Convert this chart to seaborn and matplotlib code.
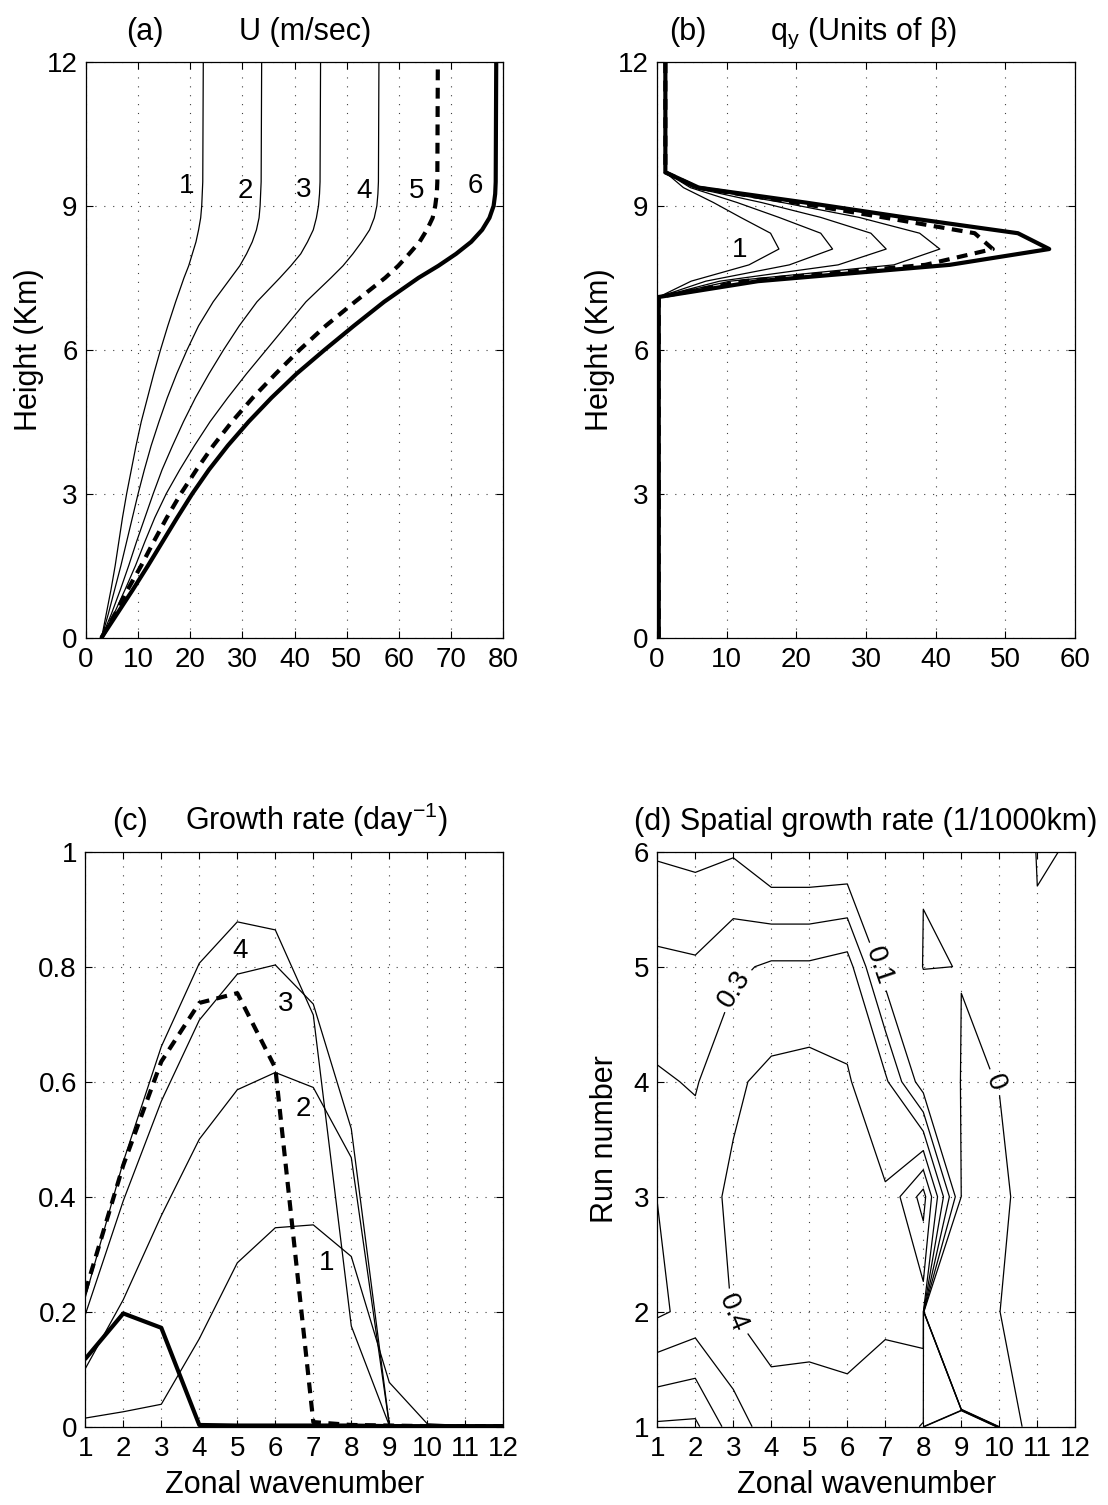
import matplotlib
matplotlib.use("Agg")
import numpy as np
import matplotlib.pyplot as plt
import seaborn as sns
from matplotlib.ticker import FormatStrFormatter

# ---------------------------------------------------------------
# (a) basic-state zonal wind U (m/s) against height (km), runs 1-6
# ---------------------------------------------------------------
u_height_km = [0, 0.5, 1, 1.5, 2, 2.5, 3, 3.5, 4, 4.5, 5, 5.5, 6, 6.5,
               7, 7.5, 7.75, 8, 8.25, 8.5, 8.75, 9, 9.25, 9.5, 12]
u_run1 = [3.0, 3.9, 4.8, 5.6, 6.3, 7.0, 7.8, 8.7, 9.6, 10.6, 11.8, 13.0,
          14.3, 15.7, 17.2, 18.8, 19.7, 20.4, 21.1, 21.6, 22.0, 22.2, 22.3,
          22.4, 22.5]
u_run2 = [3.0, 4.3, 5.5, 6.7, 7.8, 8.9, 10.0, 11.2, 12.5, 14.0, 15.6, 17.4,
          19.4, 21.6, 24.4, 27.8, 29.5, 30.8, 31.9, 32.7, 33.2, 33.4, 33.5,
          33.6, 33.7]
u_run3 = [3.0, 4.9, 6.6, 8.2, 9.7, 11.3, 12.9, 14.6, 16.6, 18.7, 21.0, 23.6,
          26.4, 29.4, 32.8, 37.2, 39.3, 41.2, 42.5, 43.6, 44.2, 44.6, 44.8,
          44.9, 45.0]
u_run4 = [3.0, 5.4, 7.5, 9.5, 11.3, 13.2, 15.4, 18.0, 20.8, 23.8, 27.2, 30.8,
          34.6, 38.4, 42.2, 47.0, 49.3, 51.2, 52.9, 54.4, 55.3, 55.8, 56.0,
          56.1, 56.2]
u_run5 = [3.0, 5.6, 8.0, 10.6, 13.0, 15.5, 18.2, 21.2, 24.4, 28.0, 32.0, 36.4,
          41.0, 46.0, 51.6, 57.4, 59.9, 62.0, 64.0, 65.4, 66.5, 67.0, 67.3,
          67.4, 67.5]
u_run6 = [3.0, 6.0, 9.0, 11.9, 14.7, 17.5, 20.4, 23.6, 27.2, 31.2, 35.6, 40.4,
          45.8, 51.4, 57.2, 63.8, 67.6, 71.0, 73.9, 76.0, 77.4, 78.2, 78.5,
          78.6, 78.7]
u_labels = ["1", "2", "3", "4", "5", "6"]
u_label_x = [19.3, 30.5, 41.7, 53.3, 63.5, 74.6]
u_label_z = [9.42, 9.30, 9.34, 9.30, 9.30, 9.42]

# ---------------------------------------------------------------
# (b) meridional PV gradient q_y (units of beta) against height (km)
# ---------------------------------------------------------------
qy_height_km = [0, 7.1, 7.43, 7.77, 8.1, 8.43, 8.76, 9.07, 9.38, 9.7, 12]
qy_run1 = [0.25, 0.25, 4.9, 13.2, 17.5, 16.3, 12.0, 8.1, 3.8, 1.2, 1.2]
qy_run2 = [0.25, 0.25, 7.0, 19.0, 25.2, 23.5, 17.5, 11.5, 4.8, 1.2, 1.2]
qy_run3 = [0.25, 0.25, 9.0, 26.0, 32.9, 30.7, 23.5, 15.0, 5.2, 1.2, 1.2]
qy_run4 = [0.25, 0.25, 10.5, 34.0, 40.6, 37.7, 29.0, 18.0, 5.6, 1.2, 1.2]
qy_run5 = [0.25, 0.25, 12.5, 38.5, 48.2, 45.6, 32.5, 19.8, 5.8, 1.2, 1.2]
qy_run6 = [0.25, 0.25, 14.5, 42.0, 56.3, 51.8, 35.6, 21.3, 6.0, 1.2, 1.2]

# ---------------------------------------------------------------
# (c) growth rate (1/day) against zonal wavenumber
# ---------------------------------------------------------------
wavenumber = [1, 2, 3, 4, 5, 6, 7, 8, 9, 10, 11, 12]
growth_run1 = [0.015, 0.026, 0.039, 0.153, 0.285, 0.346, 0.351, 0.296,
               0.077, 0.005, 0.002, 0.001]
growth_run2 = [0.101, 0.221, 0.367, 0.500, 0.586, 0.616, 0.590, 0.468,
               0.003, 0.001, 0.001, 0.001]
growth_run3 = [0.195, 0.393, 0.566, 0.707, 0.787, 0.803, 0.735, 0.518,
               0.004, 0.001, 0.001, 0.001]
growth_run4 = [0.225, 0.461, 0.661, 0.806, 0.878, 0.864, 0.716, 0.175,
               0.002, 0.001, 0.001, 0.001]
growth_run5 = [0.235, 0.455, 0.635, 0.737, 0.754, 0.624, 0.008, 0.003,
               0.002, 0.001, 0.001, 0.001]
growth_run6 = [0.118, 0.197, 0.172, 0.003, 0.002, 0.002, 0.002, 0.002,
               0.001, 0.001, 0.001, 0.001]
growth_labels = ["4", "3", "2", "1"]
growth_label_k = [5.07, 6.27, 6.75, 7.35]
growth_label_v = [0.828, 0.735, 0.553, 0.285]

# ---------------------------------------------------------------
# (d) spatial growth rate (1/1000 km): one row per run, one column per k
# ---------------------------------------------------------------
run_number = [1, 2, 3, 4, 5, 6]
spatial_run1 = [0.085, 0.080, 0.251, 0.350, 0.360, 0.360, 0.350, 0.294,
                5.0, -0.006, 0.004, 0.002]
spatial_run2 = [0.418, 0.365, 0.402, 0.446, 0.431, 0.447, 0.416, 0.450,
                -28.0, -0.0001, 0.0049, 0.003]
spatial_run3 = [0.399, 0.365, 0.415, 0.450, 0.450, 0.440, 0.412, 0.640,
                -0.001, -0.00122, 0.00285, 0.002]
spatial_run4 = [0.313, 0.291, 0.385, 0.424, 0.436, 0.410, 0.320, 0.042,
                -0.001, 0.000136, 0.003, 0.002]
spatial_run5 = [0.224, 0.214, 0.279, 0.316, 0.316, 0.344, 0.050, -0.001,
                0.0003, 0.003, 0.0047, 0.003]
spatial_run6 = [0.089, 0.075, 0.090, 0.003, 0.003, 0.005, 0.003, 0.001,
                0.001, 0.05, -0.002, 0.0016]
spatial_levels_low = [0, 0.1, 0.2, 0.3, 0.4]
spatial_levels_high = [0.5, 0.6]
spatial_label_pos = [(3.05, 4.8), (6.8, 5.0), (2.97, 1.98), (9.92, 4.0)]

# ---------------------------------------------------------------
# styling
# ---------------------------------------------------------------
sns.set_theme(style="white")
FS = 20       # tick labels and in-plot labels
FS_LAB = 22   # axis labels and panel titles
plt.rcParams.update({
    "font.family": ["Liberation Sans", "DejaVu Sans"],
    "mathtext.fontset": "custom",
    "mathtext.rm": "Liberation Sans",
    "mathtext.it": "Liberation Sans:italic",
    "mathtext.default": "regular",
    "font.size": FS,
    "axes.labelsize": FS_LAB,
    "xtick.labelsize": FS,
    "ytick.labelsize": FS,
    "text.color": "black",
    "axes.labelcolor": "black",
    "axes.edgecolor": "black",
    "axes.linewidth": 0.9,
    "xtick.color": "black",
    "ytick.color": "black",
    "xtick.direction": "in",
    "ytick.direction": "in",
    "xtick.top": True,
    "ytick.right": True,
    "xtick.bottom": True,
    "ytick.left": True,
    "xtick.major.size": 5,
    "ytick.major.size": 5,
    "xtick.major.width": 0.8,
    "ytick.major.width": 0.8,
    "xtick.major.pad": 7,
    "ytick.major.pad": 6,
})

THIN = dict(linewidth=0.9, linestyle="-")
DASHED = dict(linewidth=3.0, linestyle=(0, (2.6, 1.8)))
THICK = dict(linewidth=3.0, linestyle="-")
RUN_STYLES = [THIN, THIN, THIN, THIN, DASHED, THICK]

W, H = 1108, 1505
fig = plt.figure(figsize=(W / 100, H / 100), dpi=100)


def axes_px(left, top, right, bottom):
    return fig.add_axes([left / W, 1 - bottom / H, (right - left) / W,
                         (bottom - top) / H])


def style_axes(ax):
    ax.set_axisbelow(True)
    ax.grid(True, color="0.25", linestyle=(0, (1, 7)), linewidth=0.8)
    for sp in ax.spines.values():
        sp.set_visible(True)
        sp.set_color("black")
        sp.set_linewidth(0.9)
    ax.tick_params(which="both", direction="in", top=True, right=True)


def draw_runs(ax, xs_list, ys_list):
    for xs, ys, st in zip(xs_list, ys_list, RUN_STYLES):
        sns.lineplot(x=xs, y=ys, sort=False, estimator=None, ax=ax,
                     color="black", legend=False, **st)


ax_a = axes_px(86, 62, 503, 637.5)
ax_b = axes_px(657, 62, 1075, 637.5)
ax_c = axes_px(85.3, 851.7, 503.3, 1426.7)
ax_d = axes_px(657.3, 851.7, 1075.3, 1426.7)

# ---- (a) zonal wind ----
draw_runs(ax_a, [u_run1, u_run2, u_run3, u_run4, u_run5, u_run6],
          [u_height_km] * 6)
for t, x, z in zip(u_labels, u_label_x, u_label_z):
    ax_a.text(x, z, t, ha="center", va="center", fontsize=FS)
ax_a.set_xlim(0, 80)
ax_a.set_ylim(0, 12)
ax_a.set_xticks(range(0, 81, 10))
ax_a.set_yticks([0, 3, 6, 9, 12])
ax_a.set_xlabel("")
ax_a.set_ylabel("Height (Km)")
ax_a.yaxis.set_label_coords(-0.10, 0.5)
style_axes(ax_a)

# ---- (b) PV gradient ----
draw_runs(ax_b, [qy_run1, qy_run2, qy_run3, qy_run4, qy_run5, qy_run6],
          [qy_height_km] * 6)
ax_b.text(11.8, 8.07, "1", ha="center", va="center", fontsize=FS)
ax_b.set_xlim(0, 60)
ax_b.set_ylim(0, 12)
ax_b.set_xticks(range(0, 61, 10))
ax_b.set_yticks([0, 3, 6, 9, 12])
ax_b.set_xlabel("")
ax_b.set_ylabel("Height (Km)")
ax_b.yaxis.set_label_coords(-0.10, 0.5)
style_axes(ax_b)

# ---- (c) growth rate ----
draw_runs(ax_c, [wavenumber] * 6,
          [growth_run1, growth_run2, growth_run3, growth_run4,
           growth_run5, growth_run6])
for t, k, v in zip(growth_labels, growth_label_k, growth_label_v):
    ax_c.text(k, v, t, ha="center", va="center", fontsize=FS)
ax_c.set_xlim(1, 12)
ax_c.set_ylim(0, 1)
ax_c.set_xticks(wavenumber)
ax_c.set_yticks([0, 0.2, 0.4, 0.6, 0.8, 1.0])
ax_c.yaxis.set_major_formatter(FormatStrFormatter("%g"))
ax_c.set_xlabel("Zonal wavenumber")
ax_c.xaxis.set_label_coords(0.5, -0.075)
ax_c.set_ylabel("")
style_axes(ax_c)

# ---- (d) spatial growth rate contours ----
Z = np.array([spatial_run1, spatial_run2, spatial_run3, spatial_run4,
              spatial_run5, spatial_run6])
K, R = np.meshgrid(wavenumber, run_number)
cs = ax_d.contour(K, R, Z, levels=spatial_levels_low, colors="black",
                  linewidths=0.9)
# the closed high contours only around the interior maximum
Z_high = np.ma.masked_where(R < 2, Z)
ax_d.contour(K, R, Z_high, levels=spatial_levels_high, colors="black",
             linewidths=0.9)
ax_d.clabel(cs, manual=spatial_label_pos, inline=True, fmt="%g",
            fontsize=FS, inline_spacing=6)
ax_d.set_xlim(1, 12)
ax_d.set_ylim(1, 6)
ax_d.set_xticks(wavenumber)
ax_d.set_yticks(run_number)
ax_d.set_xlabel("Zonal wavenumber")
ax_d.xaxis.set_label_coords(0.5, -0.075)
ax_d.set_ylabel("Run number")
ax_d.yaxis.set_label_coords(-0.09, 0.5)
style_axes(ax_d)


# ---- panel titles ----
def ftext(x, y, s, ha="center"):
    fig.text(x / W, 1 - y / H, s, ha=ha, va="baseline", fontsize=FS_LAB)


ftext(145, 40, "(a)")
ftext(305, 40, "U (m/sec)")
ftext(688, 40, "(b)")
ftext(770, 40, "q$_{y}$ (Units of β)", ha="left")
ftext(130, 830, "(c)")
ftext(185, 830, "Growth rate (day$^{-1}$)", ha="left")
ftext(866, 830, "(d) Spatial growth rate (1/1000km)")

fig.savefig("out.png", dpi=100, facecolor="white")
